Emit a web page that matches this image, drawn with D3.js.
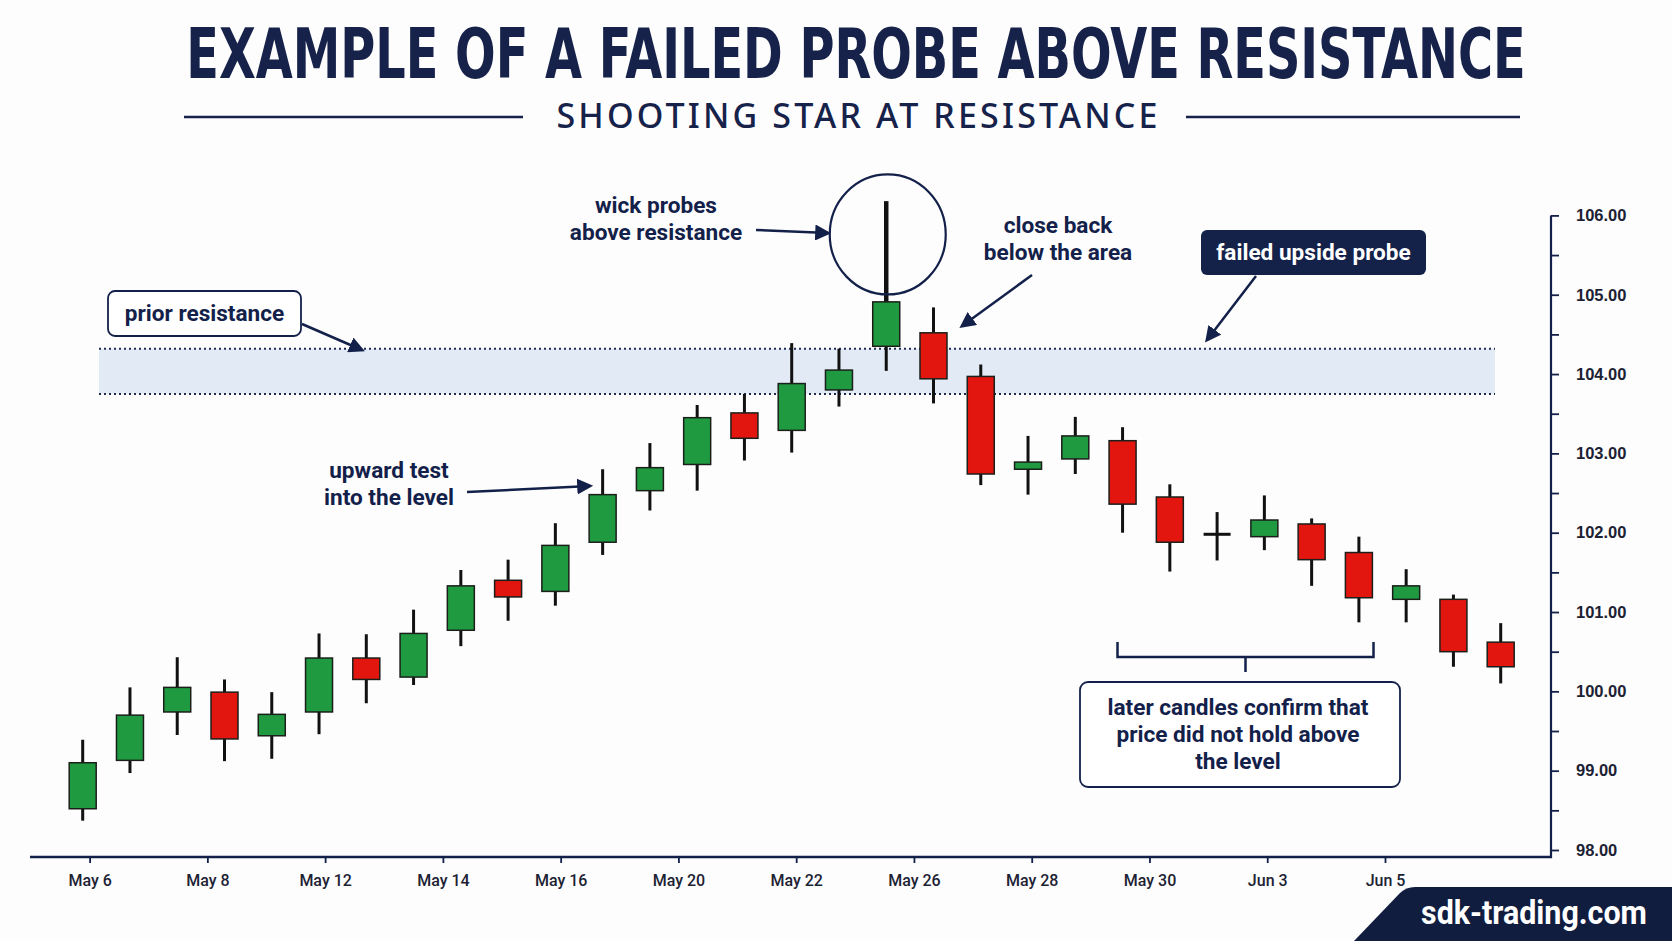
<!DOCTYPE html>
<html>
<head>
    <meta charset="utf-8">
    <title>Failed probe above resistance</title>
    <script src="https://d3js.org/d3.v7.min.js"></script>
    <style>
        body { margin: 0; background: #fdfdfd; }
        svg { display: block; }
        .note {
            font-family: Roboto, "Noto Sans", sans-serif;
            font-weight: 700;
            font-size: 22.6px;
            fill: #13214a;
        }
        .axis-y text {
            font-family: "Liberation Sans", Arial, sans-serif;
            font-weight: 700;
            font-size: 16.5px;
            fill: #1c2233;
        }
        .axis-x text {
            font-family: Roboto, sans-serif;
            font-weight: 500;
            font-size: 16px;
            fill: #1c2233;
        }
    </style>
</head>
<body>
    <div id="chart"></div>

    <script>
        // OHLC values, one per session
        const opens  = [98.52, 99.13, 99.74, 99.99, 99.44, 99.74, 100.42, 100.18, 100.77, 101.40, 101.26, 101.88, 102.53, 102.86, 103.51, 103.29, 103.80, 104.35, 104.52, 103.97, 102.80, 102.93, 103.16, 102.45, 101.98, 101.95, 102.11, 101.75, 101.16, 101.16, 100.62];
        const highs  = [99.39, 100.05, 100.43, 100.15, 99.99, 100.73, 100.72, 101.03, 101.53, 101.66, 102.12, 102.80, 103.13, 103.61, 103.75, 104.39, 104.32, 106.18, 104.84, 104.12, 103.22, 103.46, 103.33, 102.61, 102.26, 102.47, 102.18, 101.95, 101.54, 101.22, 100.86];
        const lows   = [98.37, 98.97, 99.45, 99.12, 99.15, 99.46, 99.85, 100.08, 100.57, 100.89, 101.08, 101.72, 102.28, 102.53, 102.91, 103.01, 103.59, 104.04, 103.63, 102.60, 102.48, 102.74, 102.00, 101.51, 101.65, 101.78, 101.33, 100.87, 100.87, 100.31, 100.10];
        const closes = [99.10, 99.70, 100.05, 99.40, 99.71, 100.42, 100.15, 100.73, 101.33, 101.19, 101.84, 102.48, 102.82, 103.45, 103.19, 103.88, 104.05, 104.91, 103.94, 102.74, 102.89, 103.22, 102.36, 101.88, 101.98, 102.16, 101.66, 101.18, 101.33, 100.50, 100.31];

        const dateLabels = ["May 6", "May 8", "May 12", "May 14", "May 16", "May 20", "May 22", "May 26", "May 28", "May 30", "Jun 3", "Jun 5"];
        const resistanceZone = [103.75, 104.32];
        const probeIndex = 17;   // the shooting star

        const navy = "#13214a";
        const green = "#1f9a40";
        const red = "#e3150f";

        const width = 1672, height = 941;

        const svg = d3.select("#chart")
            .append("svg")
            .attr("width", width)
            .attr("height", height);

        svg.append("rect").attr("width", width).attr("height", height).attr("fill", "#fdfdfd");

        // scales
        const x = d3.scaleLinear().domain([0, opens.length - 1]).range([82.7, 1500.7]);
        const y = d3.scaleLinear().domain([98, 106]).range([850, 215.4]);
        const xDate = d3.scalePoint().domain(dateLabels).range([89.6, 1385]);

        // arrow head
        svg.append("defs").append("marker")
            .attr("id", "arrow")
            .attr("viewBox", "0 0 10 10")
            .attr("refX", 8).attr("refY", 5)
            .attr("markerWidth", 16).attr("markerHeight", 16)
            .attr("markerUnits", "userSpaceOnUse")
            .attr("orient", "auto")
            .append("path")
            .attr("d", "M0,0 L10,5 L0,10 Z")
            .attr("fill", navy);

        // text squeezed to a given width with a horizontal scale
        function fitText(str, cx, baseline, targetW, style) {
            const t = svg.append("text")
                .attr("text-anchor", "middle")
                .text(str);
            Object.entries(style).forEach(([k, v]) => t.style(k, v));
            const w = t.node().getComputedTextLength();
            t.attr("transform", `translate(${cx},${baseline}) scale(${targetW / w},1)`);
            return t;
        }

        // title
        fitText("EXAMPLE OF A FAILED PROBE ABOVE RESISTANCE", 856, 77.5, 1340, {
            "font-family": "'Liberation Sans Narrow', 'DejaVu Sans Condensed', sans-serif",
            "font-weight": 700,
            "font-size": "70px",
            "fill": "#16224a"
        });

        svg.append("text")
            .attr("x", 857).attr("y", 127.5)
            .attr("text-anchor", "middle")
            .attr("textLength", 601)
            .attr("lengthAdjust", "spacing")
            .style("font-family", "'Noto Sans', sans-serif")
            .style("font-weight", 500)
            .style("font-size", "34px")
            .style("fill", "#16224a")
            .text("SHOOTING STAR AT RESISTANCE");

        [[184, 523], [1186, 1520]].forEach(([a, b]) => {
            svg.append("line")
                .attr("x1", a).attr("x2", b)
                .attr("y1", 117).attr("y2", 117)
                .attr("stroke", "#16224a").attr("stroke-width", 2.5);
        });

        // resistance zone
        const zoneX = [99, 1495];
        svg.append("rect")
            .attr("x", zoneX[0])
            .attr("y", y(resistanceZone[1]))
            .attr("width", zoneX[1] - zoneX[0])
            .attr("height", y(resistanceZone[0]) - y(resistanceZone[1]))
            .attr("fill", "#e2eaf5");

        svg.selectAll(".zone-line")
            .data(resistanceZone)
            .enter()
            .append("line")
            .attr("class", "zone-line")
            .attr("x1", zoneX[0]).attr("x2", zoneX[1])
            .attr("y1", d => y(d)).attr("y2", d => y(d))
            .attr("stroke", "#1d2a50")
            .attr("stroke-width", 2)
            .attr("stroke-dasharray", "2,3");

        // candles
        const candles = opens.map((o, i) => ({
            i: i, open: o, high: highs[i], low: lows[i], close: closes[i]
        }));
        const bodyW = 27;

        const cg = svg.append("g").selectAll("g")
            .data(candles)
            .enter()
            .append("g");

        // upper wick
        cg.append("line")
            .attr("x1", d => x(d.i)).attr("x2", d => x(d.i))
            .attr("y1", d => y(d.high))
            .attr("y2", d => y(Math.max(d.open, d.close)))
            .attr("stroke", "#111")
            .attr("stroke-width", d => d.i === probeIndex ? 4.5 : 3);

        // lower wick
        cg.append("line")
            .attr("x1", d => x(d.i)).attr("x2", d => x(d.i))
            .attr("y1", d => y(Math.min(d.open, d.close)))
            .attr("y2", d => y(d.low))
            .attr("stroke", "#111")
            .attr("stroke-width", 3);

        cg.filter(d => d.open !== d.close)
            .append("rect")
            .attr("x", d => x(d.i) - bodyW / 2)
            .attr("y", d => y(Math.max(d.open, d.close)))
            .attr("width", bodyW)
            .attr("height", d => y(Math.min(d.open, d.close)) - y(Math.max(d.open, d.close)))
            .attr("fill", d => d.close > d.open ? green : red)
            .attr("stroke", "#1a1f1a")
            .attr("stroke-width", 1.5);

        // doji
        cg.filter(d => d.open === d.close)
            .append("line")
            .attr("x1", d => x(d.i) - bodyW / 2)
            .attr("x2", d => x(d.i) + bodyW / 2)
            .attr("y1", d => y(d.open)).attr("y2", d => y(d.open))
            .attr("stroke", "#111")
            .attr("stroke-width", 3);

        // y axis on the right
        const yAxis = svg.append("g")
            .attr("class", "axis-y")
            .attr("transform", "translate(1551,0)")
            .call(d3.axisRight(y)
                .tickValues(d3.range(98, 106.01, 0.5))
                .tickSize(8)
                .tickPadding(17)
                .tickFormat(d => d % 1 === 0 ? d.toFixed(2) : ""));
        yAxis.select(".domain").remove();
        yAxis.selectAll(".tick line").attr("stroke", navy).attr("stroke-width", 1.8);
        yAxis.append("line")
            .attr("x1", 0).attr("x2", 0)
            .attr("y1", y(106)).attr("y2", 858)
            .attr("stroke", navy).attr("stroke-width", 2.2);

        // x axis
        const xAxis = svg.append("g")
            .attr("class", "axis-x")
            .attr("transform", "translate(0,857)")
            .call(d3.axisBottom(xDate).tickSize(6).tickPadding(12));
        xAxis.select(".domain").remove();
        xAxis.selectAll(".tick line").attr("stroke", navy).attr("stroke-width", 1.8);
        xAxis.append("line")
            .attr("x1", 30).attr("x2", 1552)
            .attr("y1", 0).attr("y2", 0)
            .attr("stroke", navy).attr("stroke-width", 2.5);

        // annotations
        function arrow(x1, y1, x2, y2) {
            svg.append("line")
                .attr("x1", x1).attr("y1", y1)
                .attr("x2", x2).attr("y2", y2)
                .attr("stroke", navy)
                .attr("stroke-width", 2.5)
                .attr("marker-end", "url(#arrow)");
        }

        function note(lines, cx, y0, fill) {
            const t = svg.append("text")
                .attr("class", "note")
                .attr("text-anchor", "middle")
                .style("fill", fill || navy);
            lines.forEach((s, k) => {
                t.append("tspan").attr("x", cx).attr("y", y0 + k * 27).text(s);
            });
        }

        // prior resistance
        svg.append("rect")
            .attr("x", 108).attr("y", 291)
            .attr("width", 193).attr("height", 45)
            .attr("rx", 7)
            .attr("fill", "#fff").attr("stroke", navy).attr("stroke-width", 1.8);
        note(["prior resistance"], 204.5, 321);
        arrow(302, 324, 362, 350);

        // wick probes
        note(["wick probes", "above resistance"], 656, 213);
        arrow(756, 230, 828, 233);
        svg.append("ellipse")
            .attr("cx", x(probeIndex) + 1.5)
            .attr("cy", y(105.76))
            .attr("rx", 58).attr("ry", 60)
            .attr("fill", "none")
            .attr("stroke", navy).attr("stroke-width", 2.2);

        // close back
        note(["close back", "below the area"], 1058, 233);
        arrow(1032, 275, 962, 326);

        // failed upside probe
        svg.append("rect")
            .attr("x", 1201).attr("y", 230)
            .attr("width", 225).attr("height", 45)
            .attr("rx", 6)
            .attr("fill", "#14224a");
        note(["failed upside probe"], 1313.5, 260, "#ffffff");
        arrow(1256, 276, 1207, 340);

        // upward test
        note(["upward test", "into the level"], 389, 478);
        arrow(467, 492, 590, 486);

        // bracket + later candles box
        svg.append("path")
            .attr("d", "M1117.5,642 V657 H1373.5 V642 M1245.5,657 V672")
            .attr("fill", "none")
            .attr("stroke", navy).attr("stroke-width", 2.5);
        svg.append("rect")
            .attr("x", 1080).attr("y", 682)
            .attr("width", 320).attr("height", 105)
            .attr("rx", 8)
            .attr("fill", "#fff").attr("stroke", navy).attr("stroke-width", 1.8);
        note(["later candles confirm that", "price did not hold above", "the level"], 1238, 715);

        // watermark
        svg.append("path")
            .attr("d", "M1354,941 L1400,893 Q1406,887 1415,887 L1672,887 L1672,941 Z")
            .attr("fill", "#111d3f");
        fitText("sdk-trading.com", 1534, 924, 226, {
            "font-family": "Roboto, sans-serif",
            "font-weight": 700,
            "font-size": "33px",
            "fill": "#ffffff"
        });
    </script>
</body>
</html>
